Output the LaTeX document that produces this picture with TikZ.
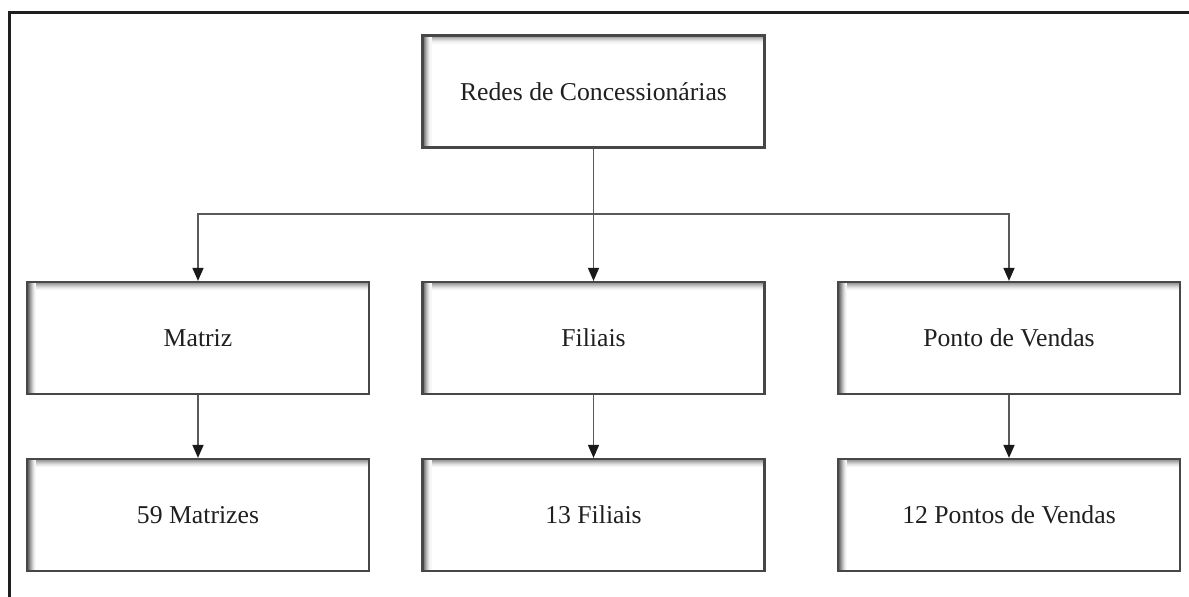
\documentclass[tikz,border=0pt]{standalone}
\usepackage{fontspec}
\usetikzlibrary{arrows.meta,calc}
\newfontfamily\cardfont{Liberation Serif}
\begin{document}
\begin{tikzpicture}[x=1pt,y=-1pt,
  card/.style={draw=black!72, line width=2.2pt, minimum width=342pt, minimum height=112pt,
    inner sep=0pt, text=black!88, font=\cardfont\fontsize{25.7}{30}\selectfont,
    path picture={
      % soft inner shadow along the top edge
      \foreach \d/\c in {1.5/40,2.5/33,3.5/26,4.5/19,5.5/13,6.5/8,7.5/4}
        \draw[black!\c, line width=1.1pt]
          ([yshift=-\d pt]path picture bounding box.north west) --
          ([yshift=-\d pt]path picture bounding box.north east);
      % darker inner shadow along the left edge
      \foreach \d/\c in {1.5/60,2.5/50,3.5/40,4.5/30,5.5/21,6.5/13,7.5/7,8.5/3}
        \draw[black!\c, line width=1.1pt]
          ([xshift=\d pt]path picture bounding box.north west) --
          ([xshift=\d pt]path picture bounding box.south west);
    }},
  conn/.style={draw=black!65, line width=1.5pt, -{Triangle[width=11pt,length=13pt,color=black!90]}},
  frame/.style={draw=black!88, line width=2.6pt}]
  \useasboundingbox (0,0) rectangle (1189,597);
  % outer frame (top and left edge)
  \draw[frame] (1189,12.5) -- (9.5,12.5) -- (9.5,598);

  % boxes
  \node[card] (top) at (593.5,91.5) {Redes de Concessionárias};
  \node[card] (m1) at (198,338) {Matriz};
  \node[card] (f1) at (593.5,338) {Filiais};
  \node[card] (p1) at (1009,338) {Ponto de Vendas};
  \node[card] (m2) at (198,515) {59 Matrizes};
  \node[card] (f2) at (593.5,515) {13 Filiais};
  \node[card] (p2) at (1009,515) {12 Pontos de Vendas};

  % branching connectors
  \coordinate (j) at (593.5,214);
  \draw[conn] (top.south) -- (f1.north);
  \draw[conn] (j) -| (m1.north);
  \draw[conn] (j) -| (p1.north);
  \draw[conn] (m1.south) -- (m2.north);
  \draw[conn] (f1.south) -- (f2.north);
  \draw[conn] (p1.south) -- (p2.north);
\end{tikzpicture}
\end{document}
